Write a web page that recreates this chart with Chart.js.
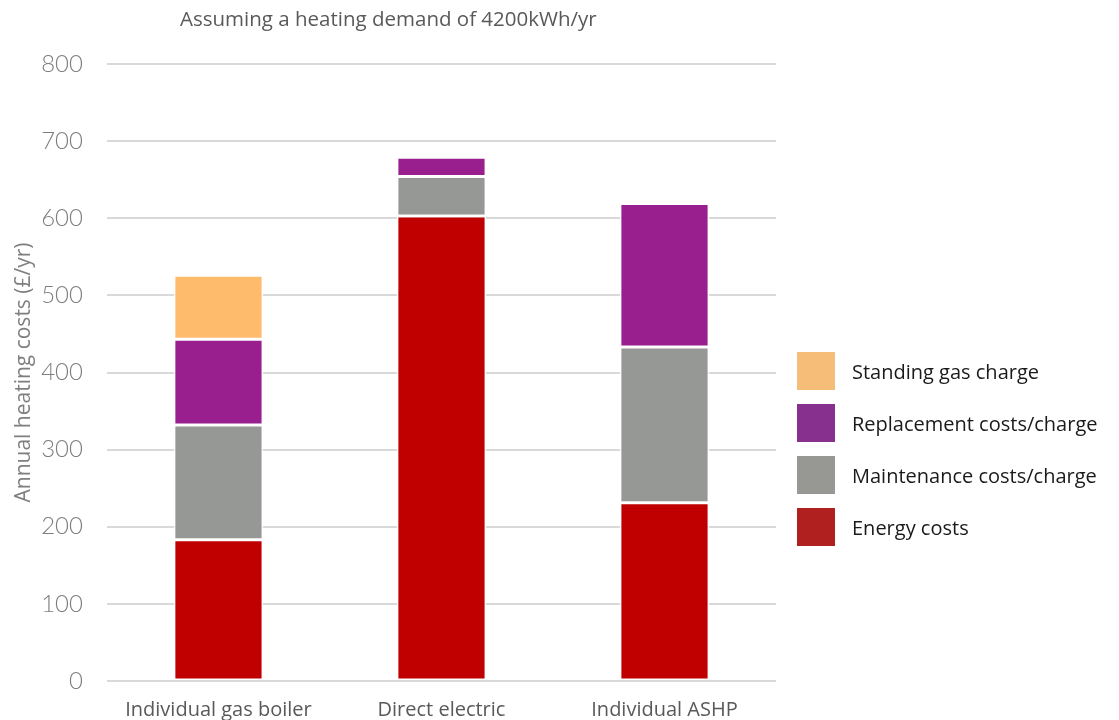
<!DOCTYPE html>
<html>
<head>
<meta charset="utf-8">
<script src="https://cdn.jsdelivr.net/npm/chart.js@4/dist/chart.umd.min.js"></script>
<style>
  body { margin: 0; background: #fff; }
  #wrap { position: relative; width: 1119px; height: 720px; }
  #subtitle {
    position: absolute; left: 180px; top: 4px;
    font-family: "Open Sans", sans-serif; font-size: 20.5px; color: #595959;
  }
  #legend {
    position: absolute; left: 797px; top: 352px;
    margin: 0; padding: 0; list-style: none;
    font-family: "Open Sans", sans-serif; font-size: 20px; color: #1a1a1a;
  }
  #legend li { display: flex; align-items: center; height: 38px; margin-bottom: 14px; }
  #legend .box { width: 38px; height: 38px; margin-right: 17px; }
</style>
</head>
<body>
<div id="wrap">
  <canvas id="heatChart" width="1119" height="720"></canvas>
  <div id="subtitle">Assuming a heating demand of 4200kWh/yr</div>
  <ul id="legend"></ul>
</div>
<script>
// data
const categories = ["Individual gas boiler", "Direct electric", "Individual ASHP"];
const energyCosts = [183, 603, 231];
const maintenanceCosts = [149, 51, 202];
const replacementCosts = [111, 25, 186];
const standingGasCharge = [83, 0, 0];
const yTicks = [0, 100, 200, 300, 400, 500, 600, 700, 800];

// legend swatches are a touch different from the bar fills
const legendColours = {
  "Energy costs": "#B0201E",
  "Maintenance costs/charge": "#979894",
  "Replacement costs/charge": "#88308D",
  "Standing gas charge": "#F5BD78"
};

function makeSet(label, data, colour) {
  return {
    label: label,
    data: data,
    backgroundColor: colour,
    borderColor: "#ffffff",
    borderWidth: 1.5,
    borderSkipped: false,
    barPercentage: 0.8,
    categoryPercentage: 0.5
  };
}

// html legend built from the chart's own legend items
const htmlLegend = {
  id: "htmlLegend",
  afterUpdate(chart) {
    const list = document.getElementById("legend");
    list.innerHTML = "";
    const items = chart.options.plugins.legend.labels.generateLabels(chart).reverse();
    items.forEach((item) => {
      const li = document.createElement("li");
      const box = document.createElement("span");
      box.className = "box";
      box.style.background = legendColours[item.text] || item.fillStyle;
      const txt = document.createElement("span");
      txt.textContent = item.text;
      li.appendChild(box);
      li.appendChild(txt);
      list.appendChild(li);
    });
  }
};

document.addEventListener("DOMContentLoaded", function () {
  const ctx = document.getElementById("heatChart").getContext("2d");

  new Chart(ctx, {
    type: "bar",
    data: {
      labels: categories,
      datasets: [
        makeSet("Energy costs", energyCosts, "#C00000"),
        makeSet("Maintenance costs/charge", maintenanceCosts, "#959894"),
        makeSet("Replacement costs/charge", replacementCosts, "#991F8F"),
        makeSet("Standing gas charge", standingGasCharge, "#FEBB6B")
      ]
    },
    options: {
      responsive: false,
      animation: false,
      layout: { padding: { top: 64, right: 343, left: 11, bottom: -11 } },
      scales: {
        x: {
          stacked: true,
          grid: { display: false },
          border: { display: false },
          ticks: {
            color: "#595959",
            font: { family: "Open Sans", size: 20 },
            padding: 9
          }
        },
        y: {
          stacked: true,
          min: 0,
          max: 800,
          afterBuildTicks: function (axis) {
            axis.ticks = yTicks.map(function (v) { return { value: v }; });
          },
          grid: { color: "#d9d9d9", lineWidth: 2, drawTicks: false },
          border: { display: false },
          ticks: {
            color: "#7f7f7f",
            font: { family: "Lato", size: 24, weight: 300 },
            padding: 24
          },
          title: {
            display: true,
            text: "Annual heating costs (£/yr)",
            color: "#7f7f7f",
            font: { family: "Open Sans", size: 21 },
            padding: { top: 0, bottom: -19 }
          }
        }
      },
      plugins: {
        legend: { display: false },
        tooltip: { enabled: false }
      }
    },
    plugins: [htmlLegend]
  });
});
</script>
</body>
</html>
